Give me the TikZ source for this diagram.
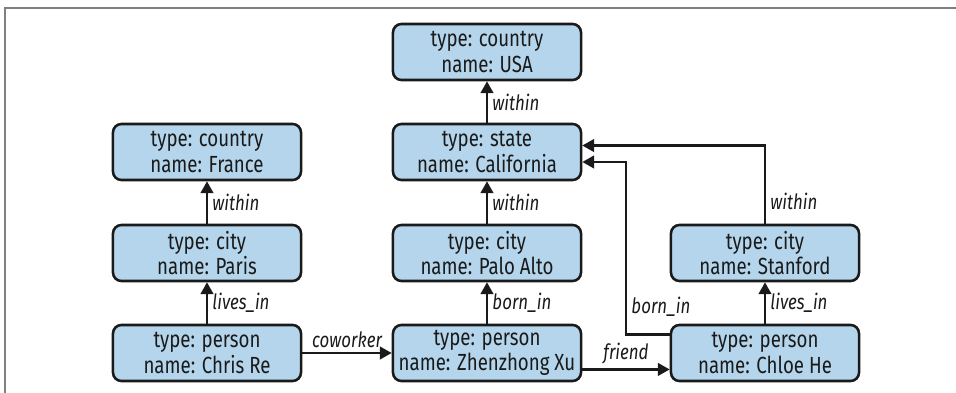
\documentclass[tikz,border=0pt]{standalone}
\usepackage{fontspec}
\setmainfont{Fira Sans}[FakeStretch=0.8]
\usetikzlibrary{arrows.meta}
\definecolor{nodeblue}{HTML}{B4D5EB}
\definecolor{ink}{HTML}{1A1A1A}
\definecolor{framegray}{HTML}{808080}
\tikzset{
  vertex/.style={draw=ink, fill=nodeblue, line width=1.8pt, rounded corners=6pt,
    minimum width=4.7cm, minimum height=1.4cm, inner sep=0pt, align=center,
    text=ink, font=\fontsize{16.6}{18}\selectfont},
  edge/.style={draw=ink, line width=1.8pt, -{Triangle[length=8.5pt,width=9pt]}},
  rel/.style={font=\fontsize{15}{16}\selectfont\itshape, text=ink, inner sep=3pt},
}
\begin{document}
\begin{tikzpicture}[x=0.025cm, y=-0.025cm]
      \useasboundingbox (0,0) rectangle (956,393);
      \draw[framegray, line width=1pt] (5,393) -- (5,8) -- (956,8);
      \draw
        (487,52) node[vertex] (usa){type: country\\name: USA}
        (487,152) node[vertex] (california){type: state\\name: California}
        (207,152) node[vertex] (france){type: country\\name: France}
        (207,253) node[vertex] (paris){type: city\\name: Paris}
        (487,253) node[vertex] (paloalto){type: city\\name: Palo Alto}
        (765,253) node[vertex] (stanford){type: city\\name: Stanford}
        (207,353) node[vertex] (chris){type: person\\name: Chris Re}
        (487,353) node[vertex] (zhenzhong){type: person\\name: Zhenzhong Xu}
        (765,353) node[vertex] (chloe){type: person\\name: Chloe He};
      \coordinate (bend) at (626,162);
      \begin{scope}[edge]
        \draw (california) to node[rel, right]{within} (usa);
        \draw (paloalto) to node[rel, right]{within} (california);
        \draw (paris) to node[rel, right]{within} (france);
        \draw (chris) to node[rel, right]{lives\_in} (paris);
        \draw (zhenzhong) to node[rel, right]{born\_in} (paloalto);
        \draw (chloe) to node[rel, right]{lives\_in} (stanford);
        \draw (chris) to node[rel, above]{coworker} (zhenzhong);
        \draw ([yshift=-11.7pt]zhenzhong.east) to node[rel, above]{friend} ([yshift=-11.7pt]chloe.west);
        \draw ([yshift=13pt]chloe.west) -| node[rel, pos=0.58, right]{born\_in} (bend) -- (california.east |- bend);
        \draw (stanford.north) |- node[rel, pos=0.14, right]{within} ([yshift=4.6pt]california.east);
      \end{scope}
    \end{tikzpicture}
\end{document}
